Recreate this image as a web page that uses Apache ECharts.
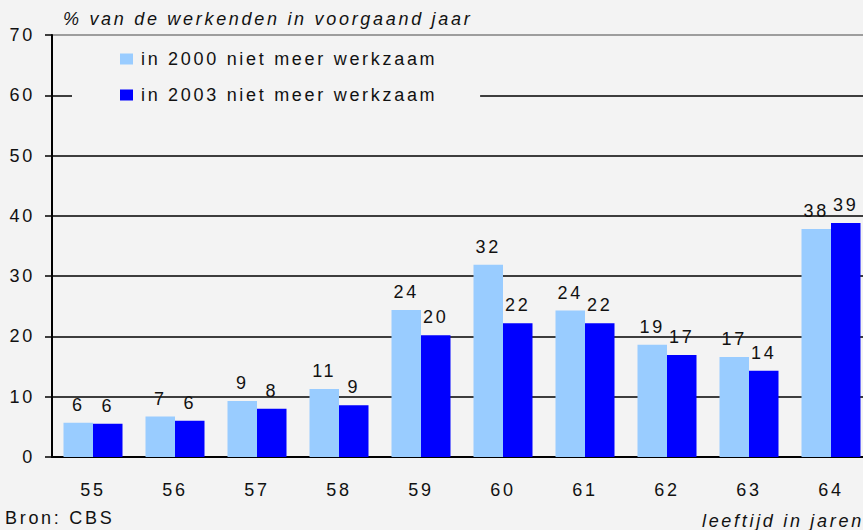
<!DOCTYPE html>
<html>
<head>
<meta charset="utf-8">
<script src="https://cdn.jsdelivr.net/npm/echarts@6/dist/echarts.min.js"></script>
<style>
  html, body { margin: 0; padding: 0; background: #f3f3f3; }
  #chart { width: 863px; height: 530px; }
  /* het origineel heeft ruim gespatieerde tekst */
  #chart text { letter-spacing: 2.7px; }
</style>
</head>
<body>
<div id="chart"></div>
<script>
// leeftijden
var categories = ["55", "56", "57", "58", "59", "60", "61", "62", "63", "64"];
// % van de werkenden in voorgaand jaar
var nietMeer2000 = [5.7, 6.7, 9.3, 11.3, 24.4, 31.9, 24.3, 18.6, 16.6, 37.8];
var nietMeer2003 = [5.5, 6.0, 8.0, 8.6, 20.2, 22.2, 22.2, 16.9, 14.3, 38.8];
var yTicks = [0, 10, 20, 30, 40, 50, 60, 70];

var font = "Liberation Sans";

var myChart = echarts.init(document.getElementById("chart"), null, { renderer: "svg" });

var labelOpt = {
  show: true,
  position: "top",
  distance: 9,
  color: "#111",
  fontFamily: font,
  fontSize: 18,
  formatter: function (p) { return Math.round(p.value); }
};

var option = {
  backgroundColor: "#f3f3f3",
  animation: false,
  title: [
    {
      text: "% van de werkenden in voorgaand jaar",
      left: 58, top: 5,
      textStyle: { fontFamily: font, fontSize: 18, fontStyle: "italic", fontWeight: "normal", color: "#111" }
    },
    {
      text: "Bron: CBS",
      left: 0, top: 504,
      textStyle: { fontFamily: font, fontSize: 18, fontWeight: "normal", color: "#111" }
    },
    {
      // letter-spacing wordt niet meegemeten, daarom extra ruimte rechts
      text: "leeftijd in jaren",
      right: 40, top: 507,
      textStyle: { fontFamily: font, fontSize: 18, fontStyle: "italic", fontWeight: "normal", color: "#111" }
    }
  ],
  legend: {
    orient: "vertical",
    left: 72, top: 42,
    padding: [8, 113, 8, 48],
    backgroundColor: "#f3f3f3",
    itemWidth: 13, itemHeight: 11,
    itemGap: 18,
    icon: "rect",
    textStyle: { fontFamily: font, fontSize: 18, color: "#111", padding: [0, 0, 0, 3] },
    data: ["in 2000 niet meer werkzaam", "in 2003 niet meer werkzaam"]
  },
  grid: { left: 52, top: 35, right: -9, bottom: 73, containLabel: false, outerBoundsMode: "none" },
  xAxis: {
    type: "category",
    data: categories,
    axisLine: { lineStyle: { color: "#000", width: 2 } },
    axisTick: { show: false },
    axisLabel: { color: "#111", fontFamily: font, fontSize: 18, margin: 24 }
  },
  yAxis: {
    type: "value",
    min: yTicks[0], max: yTicks[yTicks.length - 1], interval: 10,
    axisLine: { show: true, lineStyle: { color: "#000", width: 2 } },
    axisTick: { show: true, length: 7, lineStyle: { color: "#000", width: 1.5 } },
    axisLabel: { color: "#111", fontFamily: font, fontSize: 18, margin: 17 },
    splitLine: {
      show: true,
      lineStyle: { color: ["#000", "#000", "#000", "#000", "#000", "#000", "#000", "#808080"], width: 1.5 }
    }
  },
  series: [
    {
      name: "in 2000 niet meer werkzaam",
      type: "bar",
      data: nietMeer2000,
      barWidth: 29.5,
      barGap: "0%",
      itemStyle: { color: "#99ccff" },
      label: labelOpt
    },
    {
      name: "in 2003 niet meer werkzaam",
      type: "bar",
      data: nietMeer2003,
      barWidth: 29.5,
      itemStyle: { color: "#0000ff" },
      label: labelOpt
    }
  ]
};

myChart.setOption(option);
window.onresize = function () { myChart.resize(); };
</script>
</body>
</html>
